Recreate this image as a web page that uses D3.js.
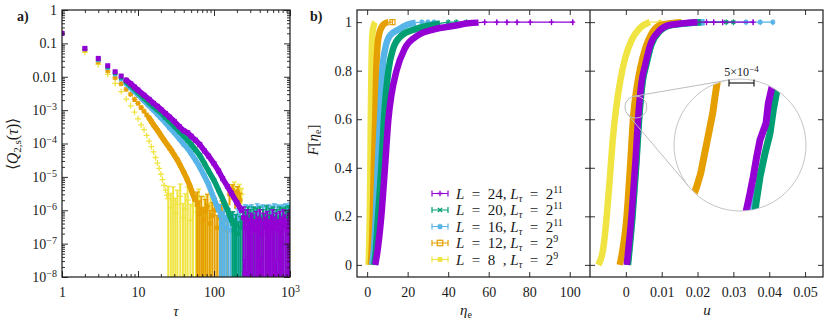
<!DOCTYPE html>
<html>
<head>
<meta charset="utf-8">
<script src="https://cdn.jsdelivr.net/npm/d3@7"></script>
<style>
  body { margin: 0; background: #fff; }
  svg text { font-family: "Liberation Serif", "Times New Roman", serif; }
</style>
</head>
<body>
<script>
const W = 831, H = 323;
const FONT = '"Liberation Serif", "Times New Roman", serif';
const INK = '#1a1a1a';

// series: L = 24, 20, 16, 12, 8
const sizes = [24, 20, 16, 12, 8];
const lTauExp = [11, 11, 11, 9, 9];
const colors = ['#9400d3', '#009e73', '#56b4e9', '#e69f00', '#f0e442'];

// ---- panel a) <Q_{2,s}(tau)>, decaying part
const tau24 = [1,2,3,4,5,6,7,8,9,10,12,14,16,18,20,23,26,30,35,40,45,50,57,65,75,85,100,115,130,150,170,200,230];
const q24 = [0.2,0.0708,0.0355,0.0214,0.0141,0.0105,0.0079,0.0062,0.0049,0.0040,0.0028,0.0021,0.0016,0.0013,1.05e-3,
  7.9e-4,6.2e-4,4.6e-4,3.2e-4,2.4e-4,2.1e-4,1.66e-4,1.26e-4,9.3e-5,6.0e-5,4.2e-5,2.5e-5,1.5e-5,8.9e-6,5.2e-6,3.2e-6,1.7e-6,1.0e-6];
const tau20 = [1,2,3,4,5,6,7,8,9,10,12,14,16,18,20,23,26,30,35,40,45,50,57,65,75,85,100,115,130,150,170];
const q20 = [0.2,0.069,0.034,0.020,0.0132,0.0095,0.0071,0.0054,0.0043,0.0034,0.0023,0.00166,0.00129,0.00102,8.5e-4,
  6.0e-4,4.6e-4,3.3e-4,2.3e-4,1.7e-4,1.26e-4,9.5e-5,6.5e-5,4.4e-5,2.5e-5,1.5e-5,7.9e-6,4.0e-6,2.2e-6,1.05e-6,5.0e-7];
const tau16 = [1,2,3,4,5,6,7,8,9,10,12,14,16,18,20,23,26,30,35,40,45,50,57,65,75,85,100,115];
const q16 = [0.2,0.068,0.032,0.0186,0.012,0.0085,0.0063,0.0047,0.0036,0.0029,0.0019,0.00135,0.0010,7.6e-4,5.9e-4,
  4.2e-4,3.0e-4,2.1e-4,1.38e-4,9.5e-5,7.1e-5,5.0e-5,3.2e-5,1.95e-5,1.05e-5,5.8e-6,2.2e-6,1.0e-6];
const tau12 = [1,2,3,4,5,6,7,8,9,10,11,12,13,14,15,16,17,18,19,20,22,24,26,28,30,33,36,40,44,48,52,56];
const q12 = [0.2,0.065,0.028,0.0151,0.0093,0.0062,0.0042,0.0030,0.0021,0.0016,0.0012,9.3e-4,7.2e-4,5.8e-4,4.6e-4,3.6e-4,
  3.0e-4,2.5e-4,2.1e-4,1.74e-4,1.26e-4,9.5e-5,7.4e-5,5.8e-5,4.5e-5,3.2e-5,2.2e-5,1.38e-5,8.7e-6,5.4e-6,3.3e-6,2.1e-6];
const tau8 = [1,2,3,4,5,6,7,8,9,10,11,12,13,14,15,16,17,18,19,20,21,22,23,24];
const q8 = [0.2,0.054,0.0234,0.0117,0.0063,0.0036,0.00214,0.00135,8.7e-4,5.5e-4,3.6e-4,2.6e-4,1.74e-4,1.17e-4,
  8.1e-5,5.6e-5,3.8e-5,2.6e-5,1.8e-5,1.2e-5,8.3e-6,5.6e-6,4.0e-6,2.8e-6];

// ---- panel a) noisy tail: value and error bar
const tau24n = [245,255,260,275,290,305,320,340,360,380,400,410,425,450,475,500,530,560,590,620,640,660,700,740,780,820,870,920,970,1000];
const q24n = [6e-7,1.3e-8,3e-7,5e-7,2e-7,4e-7,3.5e-7,2.5e-7,4.5e-7,3e-7,5e-7,1.5e-8,2e-7,4e-7,3e-7,4.5e-7,2.5e-7,3.5e-7,5e-7,3e-7,
  1.2e-8,4e-7,2.5e-7,4.5e-7,3e-7,5e-7,3.5e-7,2.5e-7,4e-7,5e-7];
const e24n = [6.5e-7,2e-8,3.2e-7,5.3e-7,2.2e-7,4.2e-7,3.7e-7,2.7e-7,4.7e-7,3.2e-7,5.3e-7,2e-8,2.2e-7,4.2e-7,3.2e-7,4.7e-7,2.7e-7,3.7e-7,
  5.3e-7,3.2e-7,2e-8,4.2e-7,2.7e-7,4.7e-7,3.2e-7,5.3e-7,3.7e-7,2.7e-7,4.2e-7,5.3e-7];
const tau20n = [175,185,195,210,225,240,260,280,300,330,360,400,440,490,540,600,660,730,800,880,960];
const q20n = [4e-7,2.5e-7,3.5e-7,2e-7,3e-7,4e-7,5e-7,6e-7,5e-7,6e-7,5.5e-7,6e-7,5e-7,6.5e-7,5.5e-7,6e-7,5e-7,6e-7,5.5e-7,6e-7,6.5e-7];
const e20n = [5e-7,3e-7,4e-7,2.5e-7,3.5e-7,4.5e-7,5.5e-7,6.5e-7,5.5e-7,6.5e-7,6e-7,6.5e-7,5.5e-7,7e-7,6e-7,6.5e-7,5.5e-7,6.5e-7,6e-7,6.5e-7,7e-7];
const tau16n = [120,128,136,145,155,165,178,190,205,220,240,260,285,310,340,370,400,440,480,520,570,620,680,740,800,870,940,1000];
const q16n = [7e-7,4e-7,6e-7,3e-7,5e-7,2.5e-7,4e-7,3e-7,5e-7,6e-7,6e-7,7e-7,6.5e-7,7e-7,6e-7,7.5e-7,6.5e-7,7e-7,6e-7,7e-7,
  6.5e-7,7.5e-7,7e-7,6.5e-7,7e-7,7.5e-7,7e-7,8e-7];
const e16n = [8e-7,5e-7,7e-7,4e-7,6e-7,3e-7,5e-7,4e-7,6e-7,7e-7,7e-7,7.5e-7,7e-7,7.5e-7,6.5e-7,8e-7,7e-7,7.5e-7,6.5e-7,7.5e-7,
  7e-7,8e-7,7.5e-7,7e-7,7.5e-7,8e-7,7.5e-7,8.5e-7];
const tau12n = [60,64,68,72,77,82,88,95,102,110,118,127,137,148,160,175,190,205,220];
const q12n = [1.5e-6,8e-7,1.1e-6,5e-7,9e-7,1.3e-6,4e-7,7e-7,1.0e-6,3e-7,6e-7,8e-7,2.5e-7,5e-7,3e-6,4e-6,2.5e-6,3.5e-6,2e-6];
const e12n = [2e-6,1.1e-6,1.5e-6,7e-7,1.2e-6,1.7e-6,6e-7,1e-6,1.3e-6,4e-7,8e-7,1.1e-6,4e-7,7e-7,1.6e-6,1.8e-6,1.4e-6,1.6e-6,1.2e-6];
const tau8n = [25,27,29,31,33,36,39,42,45,49,53,58,63,69,75,82,90,170,185,200,215,230];
const q8n = [2.2e-6,1.2e-6,2.0e-6,8e-7,1.5e-6,2.6e-6,6e-7,1.1e-6,2.0e-6,5e-7,1.3e-6,9e-7,1.8e-6,4e-7,1.0e-6,6e-7,1.4e-6,
  3.5e-6,5e-6,2.8e-6,4.2e-6,3.0e-6];
const e8n = [3e-6,2e-6,3e-6,1.5e-6,2.5e-6,3.5e-6,1e-6,2e-6,3e-6,1e-6,2e-6,1.5e-6,2.5e-6,8e-7,1.6e-6,1e-6,2e-6,
  1.5e-6,2e-6,1.4e-6,1.8e-6,1.5e-6];

// ---- panel b) F[eta_e] against eta_e
const fEta24 = [0,0.05,0.2,0.4,0.6,0.7,0.8,0.89,0.945,0.97,0.985,0.995,0.998];
const eta24 = [4.0,5.0,7.0,8.8,10.5,12,14.5,18.5,25,33,43,50,55];
const eta24tail = [58,64,69,74,80.5,91,101.5];
const fEta20 = [0,0.05,0.2,0.4,0.6,0.8,0.89,0.945,0.97,0.985,0.995];
const eta20 = [3.5,4.2,5.4,7.0,8.3,10.5,12.8,17,23.5,30,36];
const eta20tail = [40,44,49];
const fEta16 = [0,0.05,0.2,0.4,0.6,0.8,0.89,0.945,0.97,0.99,0.998];
const eta16 = [2.5,3.2,4.3,5.2,6.4,7.5,8.9,11.3,15.5,20,24];
const eta16tail = [27,30,33];
const fEta12 = [0,0.05,0.2,0.4,0.6,0.8,0.9,0.95,0.98,0.995,1.0];
const eta12 = [1.8,2.2,2.8,3.3,4.0,4.5,5.1,5.9,7.2,8.8,10.5];
const eta12tail = [12.5];
const fEta8 = [0,0.05,0.2,0.4,0.6,0.8,0.9,0.95,0.98,1.0];
const eta8 = [0.7,0.9,1.3,1.6,1.8,2.1,2.35,2.6,3.1,4.0];
const eta8tail = [];

// ---- panel b) F against u
const fU24 = [0,0.206,0.41,0.618,0.755,0.824,0.906,0.961,0.988,1.0];
const u24 = [0.00025,0.0016,0.0026,0.0035,0.0044,0.0054,0.0068,0.0091,0.0123,0.0200];
const u24tail = [0.0225,0.0245,0.027,0.0355];
const fU20 = [0,0.206,0.41,0.618,0.755,0.824,0.906,0.961,0.988,1.0];
const u20 = [0.0006,0.0019,0.0029,0.0038,0.0047,0.0057,0.0071,0.0094,0.0127,0.0210];
const u20tail = [0.028,0.030];
const fU16 = [0,0.206,0.41,0.618,0.755,0.824,0.906,0.961,0.988,1.0];
const u16 = [0.0004,0.0018,0.0028,0.0037,0.0046,0.0056,0.0070,0.0093,0.0126,0.0220];
const u16tail = [0.0335,0.0375,0.041];
const fU12 = [0,0.206,0.41,0.618,0.728,0.81,0.892,0.954,0.988,1.0];
const u12 = [-0.0017,0.00025,0.0012,0.0021,0.0030,0.0040,0.0054,0.0072,0.0095,0.0155];
const u12tail = [];
const fU8 = [0,0.068,0.206,0.37,0.508,0.646,0.755,0.851,0.926,0.975,1.0];
const u8 = [-0.0077,-0.0063,-0.0053,-0.0044,-0.0037,-0.0027,-0.0016,-0.0002,0.0016,0.0039,0.0067];
const u8tail = [0.0095];

// ---- zoomed inset (u, F) near F = 0.65
const insU12 = [0.00228,0.002246,0.0022,0.002154,0.0021,0.002034,0.00198,0.001914,0.001834,0.001786,0.00174];
const insF12 = [0.6731,0.66948,0.66486,0.65975,0.65563,0.65052,0.6464,0.64129,0.63717,0.63514,0.6315];
const insU16 = [0.00305,0.00300,0.00296];
const insF16 = [0.6370,0.6330,0.6290];
const insU20 = [0.00348,0.003434,0.003366,0.0033,0.0032,0.0031,0.00302,0.00300];
const insF20 = [0.67062,0.6664,0.66077,0.6536,0.64745,0.64025,0.63206,0.62908];
const insU24 = [0.0034,0.003334,0.003266,0.00322,0.0031,0.003034,0.002966,0.0029,0.00282];
const insF24 = [0.67154,0.66745,0.66283,0.65668,0.65154,0.6464,0.64025,0.63514,0.62938];

const svg = d3.select('body').append('svg')
  .attr('width', W).attr('height', H)
  .style('font-family', FONT);
const defs = svg.append('defs');

function clip(id, x0, y0, x1, y1) {
  defs.append('clipPath').attr('id', id)
    .append('rect').attr('x', x0).attr('y', y0).attr('width', x1 - x0).attr('height', y1 - y0);
  return `url(#${id})`;
}

function marker(g, type, x, y, s, color) {
  const h = s / 2;
  if (type === 'square') {
    g.append('rect').attr('x', x - h).attr('y', y - h).attr('width', s).attr('height', s).attr('fill', color);
  } else if (type === 'osquare') {
    g.append('rect').attr('x', x - h).attr('y', y - h).attr('width', s).attr('height', s)
      .attr('fill', 'none').attr('stroke', color).attr('stroke-width', 1.2);
  } else if (type === 'circle') {
    g.append('circle').attr('cx', x).attr('cy', y).attr('r', h).attr('fill', color);
  } else {
    let d = '';
    const c = h * 0.75;
    if (type === 'plus' || type === 'star') d += `M${x - h},${y}H${x + h}M${x},${y - h}V${y + h}`;
    if (type === 'cross' || type === 'star') d += `M${x - c},${y - c}L${x + c},${y + c}M${x - c},${y + c}L${x + c},${y - c}`;
    g.append('path').attr('d', d).attr('fill', 'none').attr('stroke', color).attr('stroke-width', 1.3);
  }
}

function supText(sel) {
  sel.each(function () {
    const t = d3.select(this);
    const s = t.text();
    if (!s.includes('^')) return;
    const [b, e] = s.split('^');
    t.text(b);
    t.append('tspan').attr('dy', '-0.5em').attr('font-size', 10).text(e);
  });
}

function axis(gen, scale, values, tx, ty, size, fmt, pad) {
  const a = gen(scale).tickValues(values).tickSize(-size)
    .tickPadding(pad == null ? 5 : pad)
    .tickFormat(fmt || (() => ''));
  const g = svg.append('g').attr('transform', `translate(${tx},${ty})`).call(a);
  g.attr('font-size', 14).attr('font-family', FONT);
  g.select('.domain').remove();
  g.selectAll('line').attr('stroke', INK).attr('stroke-width', 0.9);
  g.selectAll('text').attr('fill', INK).call(supText);
  return g;
}

// ================= panel a
const xA = d3.scaleLog().domain([1, 1000]).range([62, 290]);
const yA = d3.scaleLog().domain([1e-8, 1]).range([277, 10]);

const isDecade = v => Math.abs(Math.log10(v) - Math.round(Math.log10(v))) < 1e-9;
const xMajor = xA.ticks().filter(isDecade);
const xMinor = xA.ticks().filter(v => !isDecade(v));
const yMajor = yA.ticks().filter(isDecade);
const yMinor = yA.ticks().filter(v => !isDecade(v));

const fmtAx = v => v === 1000 ? '10^3' : String(v);
const fmtAy = v => {
  const k = Math.round(Math.log10(v));
  if (k === 0) return '1';
  if (k === -1) return '0.1';
  if (k === -2) return '0.01';
  return '10^\u2212' + (-k);
};

const plotA = svg.append('g').attr('clip-path', clip('clipA', 62, 10, 290, 277));

const seriesA = [
  { tau: tau8, q: q8, tn: tau8n, qn: q8n, en: e8n, color: colors[4], mark: 'plus', s: 6, from: Infinity },
  { tau: tau12, q: q12, tn: tau12n, qn: q12n, en: e12n, color: colors[3], mark: 'star', s: 5.5, from: 14 },
  { tau: tau16, q: q16, tn: tau16n, qn: q16n, en: e16n, color: colors[2], mark: 'square', s: 4.5, from: 7 },
  { tau: tau20, q: q20, tn: tau20n, qn: q20n, en: e20n, color: colors[1], mark: 'square', s: 4.5, from: 7 },
  { tau: tau24, q: q24, tn: tau24n, qn: q24n, en: e24n, color: colors[0], mark: 'square', s: 5, from: 7 }
];

seriesA.forEach(s => {
  const g = plotA.append('g');
  const pts = s.tau.map((t, i) => ({ t, q: s.q[i] }));
  const band = pts.filter(p => p.t >= s.from);
  if (band.length > 1) {
    g.append('path').datum(band)
      .attr('d', d3.line().x(p => xA(p.t)).y(p => yA(p.q)))
      .attr('fill', 'none').attr('stroke', s.color).attr('stroke-width', 5.5)
      .attr('stroke-linejoin', 'round').attr('stroke-linecap', 'round');
  }
  const noise = s.tn.map((t, i) => ({ t, q: s.qn[i], e: s.en[i] }));
  g.selectAll('line.err').data(noise).join('line').attr('class', 'err')
    .attr('x1', p => xA(p.t)).attr('x2', p => xA(p.t))
    .attr('y1', p => yA(Math.max(p.q - p.e, 1e-9))).attr('y2', p => yA(p.q + p.e))
    .attr('stroke', s.color).attr('stroke-width', 2);
  g.selectAll('line.cap').data(noise).join('line').attr('class', 'cap')
    .attr('x1', p => xA(p.t) - 2.5).attr('x2', p => xA(p.t) + 2.5)
    .attr('y1', p => yA(p.q + p.e)).attr('y2', p => yA(p.q + p.e))
    .attr('stroke', s.color).attr('stroke-width', 1.3);
  pts.concat(noise).forEach(p => marker(g, s.mark, xA(p.t), yA(p.q), s.s, s.color));
});

svg.append('rect').attr('x', 62).attr('y', 10).attr('width', 228).attr('height', 267)
  .attr('fill', 'none').attr('stroke', INK).attr('stroke-width', 1.2);

axis(d3.axisBottom, xA, xMajor, 0, 277, 6, fmtAx, 10);
axis(d3.axisBottom, xA, xMinor, 0, 277, 3);
axis(d3.axisTop, xA, xMajor, 0, 10, 6);
axis(d3.axisTop, xA, xMinor, 0, 10, 3);
axis(d3.axisLeft, yA, yMajor, 62, 0, 6, fmtAy, 5);
axis(d3.axisLeft, yA, yMinor, 62, 0, 3);
axis(d3.axisRight, yA, yMajor, 290, 0, 6);
axis(d3.axisRight, yA, yMinor, 290, 0, 3);

// ================= panel b
const xE = d3.scaleLinear().domain([-5, 110]).range([357, 590]);
const xU = d3.scaleLinear().domain([-0.01, 0.055]).range([590, 823]);
const yF = d3.scaleLinear().domain([-0.05, 1.05]).range([277, 10]);

const plotE = svg.append('g').attr('clip-path', clip('clipE', 357, 10, 590, 277));
const plotU = svg.append('g').attr('clip-path', clip('clipU', 590, 10, 823, 277));

const legendMarks = ['plus', 'cross', 'star', 'osquare', 'circle'];
const seriesB = [
  { c: 4, fe: fEta8, e: eta8, et: eta8tail, fu: fU8, u: u8, ut: u8tail },
  { c: 3, fe: fEta12, e: eta12, et: eta12tail, fu: fU12, u: u12, ut: u12tail },
  { c: 2, fe: fEta16, e: eta16, et: eta16tail, fu: fU16, u: u16, ut: u16tail },
  { c: 1, fe: fEta20, e: eta20, et: eta20tail, fu: fU20, u: u20, ut: u20tail },
  { c: 0, fe: fEta24, e: eta24, et: eta24tail, fu: fU24, u: u24, ut: u24tail }
];

function cdfBand(g, xs, vals, fs, tail, color, mark) {
  const pts = vals.map((v, i) => [v, fs[i]]);
  g.append('path').datum(pts)
    .attr('d', d3.line().x(d => xs(d[0])).y(d => yF(d[1])).curve(d3.curveMonotoneX))
    .attr('fill', 'none').attr('stroke', color).attr('stroke-width', 6.5)
    .attr('stroke-linejoin', 'round');
  if (tail.length) {
    const tp = [pts[pts.length - 1]].concat(tail.map(v => [v, 1]));
    g.append('path').datum(tp)
      .attr('d', d3.line().x(d => xs(d[0])).y(d => yF(d[1])))
      .attr('fill', 'none').attr('stroke', color).attr('stroke-width', 1.2);
    tail.forEach(v => {
      g.append('line').attr('x1', xs(v)).attr('x2', xs(v)).attr('y1', yF(1) - 3).attr('y2', yF(1) + 3)
        .attr('stroke', color).attr('stroke-width', 1.1);
      marker(g, mark, xs(v), yF(1), 5, color);
    });
  }
}

seriesB.forEach(s => {
  cdfBand(plotE, xE, s.e, s.fe, s.et, colors[s.c], legendMarks[s.c]);
  cdfBand(plotU, xU, s.u, s.fu, s.ut, colors[s.c], legendMarks[s.c]);
});

// zoom marker and inset
const zc = { x: xU(0.0028), y: yF(0.65), r: 11 };
const ic = { x: 740, y: 145, r: 66 };
{
  const dx = ic.x - zc.x, dy = ic.y - zc.y, d = Math.hypot(dx, dy);
  const base = Math.atan2(dy, dx), phi = Math.acos(-(ic.r - zc.r) / d);
  [base + phi, base - phi].forEach(a => {
    const nx = Math.cos(a), ny = Math.sin(a);
    svg.append('line')
      .attr('x1', zc.x + zc.r * nx).attr('y1', zc.y + zc.r * ny)
      .attr('x2', ic.x + ic.r * nx).attr('y2', ic.y + ic.r * ny)
      .attr('stroke', '#bdbdbd').attr('stroke-width', 1);
  });
  svg.append('circle').attr('cx', zc.x).attr('cy', zc.y).attr('r', zc.r)
    .attr('fill', 'none').attr('stroke', '#bdbdbd').attr('stroke-width', 1);
  svg.append('circle').attr('cx', ic.x).attr('cy', ic.y).attr('r', ic.r)
    .attr('fill', '#fff').attr('stroke', '#c4c4c4').attr('stroke-width', 1);
  defs.append('clipPath').attr('id', 'clipI')
    .append('circle').attr('cx', ic.x).attr('cy', ic.y).attr('r', ic.r - 0.5);
}

const xI = d3.scaleLinear().domain([0.00138, 0.00402]).range([674, 806]);
const yI = d3.scaleLinear().domain([0.6297, 0.6703]).range([211, 79]);
const inset = svg.append('g').attr('clip-path', 'url(#clipI)');
[[insU16, insF16, 2], [insU20, insF20, 1], [insU24, insF24, 0], [insU12, insF12, 3]].forEach(([us, fs, c]) => {
  inset.append('path').datum(us.map((u, i) => [u, fs[i]]))
    .attr('d', d3.line().x(d => xI(d[0])).y(d => yI(d[1])))
    .attr('fill', 'none').attr('stroke', colors[c]).attr('stroke-width', 7)
    .attr('stroke-linejoin', 'round');
});

// scale bar 5x10^-4
{
  const x0 = xI(0.00248), x1 = xI(0.00248 + 5e-4), yb = 83;
  const bar = svg.append('g').attr('stroke', INK).attr('stroke-width', 1.2);
  bar.append('line').attr('x1', x0).attr('x2', x1).attr('y1', yb).attr('y2', yb);
  bar.append('line').attr('x1', x0).attr('x2', x0).attr('y1', yb - 3.5).attr('y2', yb + 3.5);
  bar.append('line').attr('x1', x1).attr('x2', x1).attr('y1', yb - 3.5).attr('y2', yb + 3.5);
  const t = svg.append('text').attr('x', (x0 + x1) / 2).attr('y', 76).attr('text-anchor', 'middle')
    .attr('font-size', 12).attr('fill', INK).text('5×10');
  t.append('tspan').attr('dy', '-0.45em').attr('font-size', 9).text('\u22124');
}

// frames
svg.append('rect').attr('x', 357).attr('y', 10).attr('width', 466).attr('height', 267)
  .attr('fill', 'none').attr('stroke', INK).attr('stroke-width', 1.2);
svg.append('line').attr('x1', 590).attr('x2', 590).attr('y1', 10).attr('y2', 277)
  .attr('stroke', INK).attr('stroke-width', 1.2);

const etaTicks = [0, 20, 40, 60, 80, 100];
const uTicks = [0, 0.01, 0.02, 0.03, 0.04, 0.05];
const fTicks = [0, 0.2, 0.4, 0.6, 0.8, 1];
axis(d3.axisBottom, xE, etaTicks, 0, 277, 5, d3.format('d'), 10);
axis(d3.axisTop, xE, etaTicks, 0, 10, 5);
axis(d3.axisBottom, xU, uTicks, 0, 277, 5, v => v === 0 ? '0' : d3.format('.2f')(v), 10);
axis(d3.axisTop, xU, uTicks, 0, 10, 5);
axis(d3.axisLeft, yF, fTicks, 357, 0, 5, v => (v === 0 || v === 1) ? String(v) : v.toFixed(1), 5);
axis(d3.axisRight, yF, fTicks, 590, 0, 5);
axis(d3.axisLeft, yF, fTicks, 590, 0, 5);
axis(d3.axisRight, yF, fTicks, 823, 0, 5);

// legend
const legendY0 = 193.5, legendDy = 16.5;
sizes.forEach((L, i) => {
  const y = legendY0 + i * legendDy;
  const g = svg.append('g');
  g.append('path').attr('d', `M432,${y}H448M432,${y - 3}V${y + 3}M448,${y - 3}V${y + 3}`)
    .attr('stroke', colors[i]).attr('stroke-width', 1.2).attr('fill', 'none');
  marker(g, legendMarks[i], 440, y, 5.5, colors[i]);
  const t = g.append('text').attr('x', 456).attr('y', y + 5).attr('font-size', 15).attr('fill', INK);
  t.append('tspan').attr('font-style', 'italic').text('L');
  t.append('tspan').text('\u2002=\u2002' + (L < 10 ? L + '\u00a0\u00a0' : L) + ', ');
  t.append('tspan').attr('font-style', 'italic').text('L');
  t.append('tspan').attr('font-style', 'italic').attr('font-size', 10).attr('dy', 3).text('τ');
  t.append('tspan').attr('dy', -3).text('\u2002=\u20022');
  t.append('tspan').attr('font-size', 10).attr('dy', -6).text(lTauExp[i]);
});

// axis titles and panel tags
function label(x, y, rot, fs) {
  const t = svg.append('text').attr('x', x).attr('y', y).attr('font-size', fs || 15).attr('fill', INK)
    .attr('text-anchor', 'middle');
  if (rot) t.attr('transform', `rotate(-90,${x},${y})`);
  return t;
}
{
  const t = label(18, 144, true, 16);
  t.append('tspan').text('⟨');
  t.append('tspan').attr('font-style', 'italic').text('Q');
  t.append('tspan').attr('font-size', 11).attr('dy', 3).text('2,s');
  t.append('tspan').attr('dy', -3).text('(');
  t.append('tspan').attr('font-style', 'italic').text('τ');
  t.append('tspan').text(')⟩');
}
label(176, 316).append('tspan').attr('font-style', 'italic').text('τ');
{
  const t = label(318, 140, true);
  t.append('tspan').attr('font-style', 'italic').text('F');
  t.append('tspan').text('[');
  t.append('tspan').attr('font-style', 'italic').text('η');
  t.append('tspan').attr('font-size', 10).attr('dy', 3).text('e');
  t.append('tspan').attr('dy', -3).text(']');
}
{
  const t = label(466, 315);
  t.append('tspan').attr('font-style', 'italic').text('η');
  t.append('tspan').attr('font-size', 10).attr('dy', 3).text('e');
}
label(707, 315).append('tspan').attr('font-style', 'italic').text('u');

svg.append('text').attr('x', 17).attr('y', 21).attr('font-size', 14).attr('font-weight', 'bold')
  .attr('fill', INK).text('a)');
svg.append('text').attr('x', 310).attr('y', 21).attr('font-size', 14).attr('font-weight', 'bold')
  .attr('fill', INK).text('b)');
</script>
</body>
</html>
